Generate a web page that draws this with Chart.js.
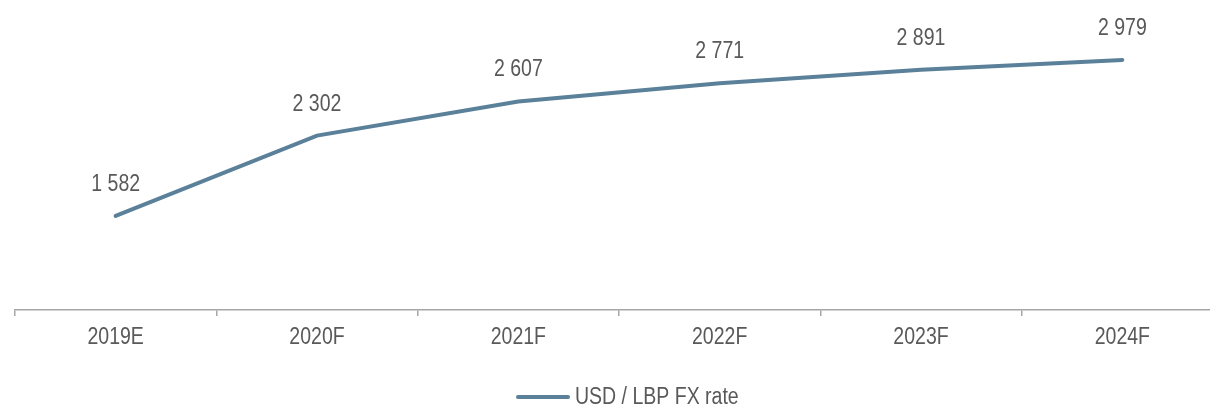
<!DOCTYPE html>
<html><head><meta charset="utf-8">
<script src="https://cdn.jsdelivr.net/npm/chart.js@4"></script>
<style>
html,body{margin:0;padding:0;overflow:hidden;background:#fff;width:1210px;height:404px;}
#wrap{position:absolute;left:0;top:0;width:1230px;height:420px;}
</style></head>
<body>
<div id="wrap"><canvas id="c" width="1230" height="420"></canvas></div>
<script>
const categories = ["2019E","2020F","2021F","2022F","2023F","2024F"];
const fxRate = [1582, 2302, 2607, 2771, 2891, 2979];
const seriesName = "USD / LBP FX rate";

const FONT = "'Liberation Sans',Arial,sans-serif";
const FSIZE = 23.5;
const SX = 0.83;
const TXT = '#595959';
const LINE = '#5b8099';

function narrowText(ctx, text, x, y, align, baseline){
  ctx.save();
  ctx.font = FSIZE + 'px ' + FONT;
  ctx.fillStyle = TXT;
  ctx.textAlign = align;
  ctx.textBaseline = baseline;
  ctx.translate(x, y);
  ctx.scale(SX, 1);
  ctx.fillText(text, 0, 0);
  ctx.restore();
}

const textPlugin = {
  id:'narrowText',
  afterDraw(chart){
    const ctx = chart.ctx;
    const area = chart.chartArea;
    // data labels
    const meta = chart.getDatasetMeta(0);
    meta.data.forEach((p,i)=>{
      const v = fxRate[i].toLocaleString('en-US').replace(/,/g,' ');
      narrowText(ctx, v, p.x, p.y - 31.5, 'center', 'middle');
    });
    // category labels
    const xs = chart.scales.x;
    categories.forEach((c,i)=>{
      narrowText(ctx, c, xs.getPixelForTick(i), area.bottom + 28, 'center', 'middle');
    });
    // legend
    const cx = (area.left + area.right) / 2;
    const lx = cx - 103, ly = area.bottom + 87;
    ctx.save();
    ctx.strokeStyle = LINE; ctx.lineWidth = 4; ctx.lineCap = 'round';
    ctx.beginPath(); ctx.moveTo(lx + 2, ly); ctx.lineTo(lx + 52, ly); ctx.stroke();
    ctx.restore();
    narrowText(ctx, chart.data.datasets[0].label, lx + 59, area.bottom + 94, 'left', 'alphabetic');
  }
};

new Chart(document.getElementById('c'), {
  type:'line',
  data:{labels:categories, datasets:[{label:seriesName, data:fxRate, borderColor:LINE, backgroundColor:LINE, borderWidth:4, pointRadius:0, borderCapStyle:'round', tension:0}]},
  options:{
    responsive:false, animation:false,
    layout:{padding:{left:15,right:7,top:0,bottom:104}},
    plugins:{
      legend:{display:false},
      tooltip:{enabled:false}
    },
    scales:{
      x:{offset:true,
         grid:{offset:true, drawOnChartArea:false, drawTicks:true, tickLength:6, color:'#a6a6a6', lineWidth:1.5},
         border:{display:true, color:'#a6a6a6', width:1.5},
         ticks:{display:false}},
      y:{display:false, min:740, max:3516}
    }
  },
  plugins:[textPlugin]
});
</script>
</body></html>
